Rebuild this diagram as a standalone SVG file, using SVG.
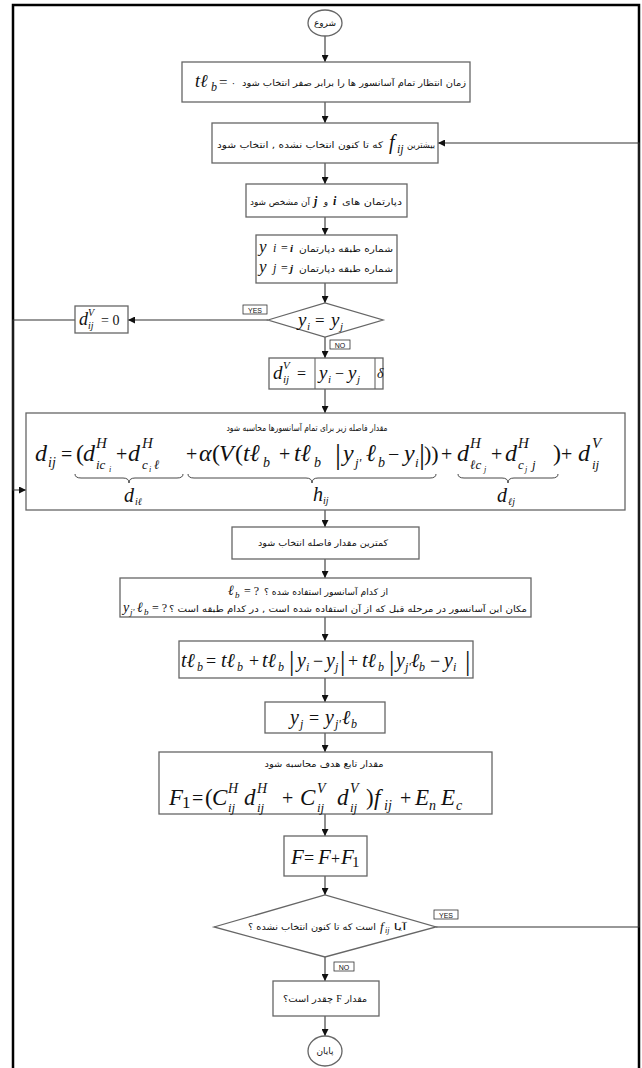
<svg xmlns="http://www.w3.org/2000/svg" width="642" height="1068" viewBox="0 0 642 1068">
<style>
.bx{fill:#fff;stroke:#666;stroke-width:1.3}
.cn{fill:none;stroke:#333;stroke-width:1.1}
.fa{font-family:"DejaVu Sans",sans-serif;font-size:9px;fill:#111}
.m{font-family:"Liberation Serif","DejaVu Serif",serif;font-style:italic;fill:#111}
.u{font-style:normal}
.lb{fill:#fff;stroke:#333;stroke-width:0.8}
.lt{font-family:"Liberation Sans",sans-serif;font-size:7px;fill:#111}
.br{fill:none;stroke:#333;stroke-width:0.9}
</style>
<defs>
<marker id="ah" markerUnits="userSpaceOnUse" markerWidth="7" markerHeight="7" refX="7" refY="3.5" orient="auto">
<path d="M0,0 L7,3.5 L0,7 z" fill="#111"/>
</marker>
</defs>
<rect width="642" height="1068" fill="#fff"/>
<path d="M13,1068 V5 H639 V1068" fill="none" stroke="#000" stroke-width="2.5"/>

<g id="connectors">
<path class="cn" d="M325,36 V62" marker-end="url(#ah)"/>
<path class="cn" d="M325,102 V123" marker-end="url(#ah)"/>
<path class="cn" d="M325,163 V184" marker-end="url(#ah)"/>
<path class="cn" d="M325,217 V235" marker-end="url(#ah)"/>
<path class="cn" d="M325,283 V303" marker-end="url(#ah)"/>
<path class="cn" d="M268,320 H128" marker-end="url(#ah)"/>
<path class="cn" d="M325,337 V358" marker-end="url(#ah)"/>
<path class="cn" d="M325,389 V413" marker-end="url(#ah)"/>
<path class="cn" d="M75,320 H13 V490 H26" marker-end="url(#ah)"/>
<path class="cn" d="M325,510 V527" marker-end="url(#ah)"/>
<path class="cn" d="M325,559 V578" marker-end="url(#ah)"/>
<path class="cn" d="M325,617 V641" marker-end="url(#ah)"/>
<path class="cn" d="M325,678 V702" marker-end="url(#ah)"/>
<path class="cn" d="M325,733 V752" marker-end="url(#ah)"/>
<path class="cn" d="M325,814 V836" marker-end="url(#ah)"/>
<path class="cn" d="M325,876 V895" marker-end="url(#ah)"/>
<path class="cn" d="M325,957 V981" marker-end="url(#ah)"/>
<path class="cn" d="M325,1016 V1036" marker-end="url(#ah)"/>
<path class="cn" d="M436,927 H639 V143 H438" marker-end="url(#ah)"/>
<rect class="lb" x="243" y="305" width="24" height="9"/><text class="lt" x="255" y="312.5" text-anchor="middle">YES</text>
<rect class="lb" x="330" y="340" width="20" height="9"/><text class="lt" x="340" y="347.5" text-anchor="middle">NO</text>
<rect class="lb" x="434" y="910" width="24" height="9"/><text class="lt" x="446" y="917.5" text-anchor="middle">YES</text>
<rect class="lb" x="334" y="962" width="20" height="9"/><text class="lt" x="344" y="969.5" text-anchor="middle">NO</text>
</g>

<g id="start">
<ellipse class="bx" cx="325" cy="23" rx="17" ry="13"/>
<text class="fa" x="325" y="26" text-anchor="middle" direction="rtl">شروع</text>
</g>

<g id="init">
<rect class="bx" x="182" y="62" width="288" height="40"/>
<text class="m" font-size="18"><tspan x="195" y="87">tℓ</tspan><tspan x="211" y="91" font-size="12">b</tspan><tspan class="u" x="219" y="87" font-size="15">=</tspan></text>
<text class="fa" x="231" y="86">۰</text>
<text class="fa" x="354" y="86" text-anchor="middle" direction="rtl" textLength="224" lengthAdjust="spacingAndGlyphs">زمان انتظار تمام آسانسور ها را برابر صفر انتخاب شود</text>
</g>

<g id="select-fij">
<rect class="bx" x="212" y="123" width="226" height="40"/>
<text class="fa" x="421" y="148" text-anchor="middle" direction="rtl" textLength="28" lengthAdjust="spacingAndGlyphs">بیشترین</text>
<text class="m" font-size="20"><tspan x="389" y="149">f</tspan><tspan x="397" y="153" font-size="12">ij</tspan></text>
<text class="fa" x="300" y="148" text-anchor="middle" direction="rtl" textLength="166" lengthAdjust="spacingAndGlyphs">که تا کنون انتخاب نشده , انتخاب شود</text>
</g>

<g id="departments">
<rect class="bx" x="246" y="184" width="161" height="33"/>
<text class="fa" x="372" y="205" text-anchor="middle" direction="rtl" textLength="60" lengthAdjust="spacingAndGlyphs">دپارتمان های</text>
<text class="m" font-size="12" font-weight="bold" x="333" y="205">i</text>
<text class="fa" x="326" y="205" text-anchor="middle">و</text>
<text class="m" font-size="12" font-weight="bold" x="314" y="205">j</text>
<text class="fa" x="280" y="205" text-anchor="middle" direction="rtl" textLength="60" lengthAdjust="spacingAndGlyphs">آن مشخص شود</text>
</g>

<g id="floors">
<rect class="bx" x="256" y="235" width="141" height="48"/>
<text class="m" font-size="17"><tspan x="259" y="252">y</tspan><tspan x="273" y="252" font-size="12">i</tspan><tspan class="u" x="281" y="252" font-size="12">=</tspan><tspan x="290" y="252" font-size="11" font-weight="bold">i</tspan></text>
<text class="fa" x="346" y="252" text-anchor="middle" direction="rtl" textLength="94" lengthAdjust="spacingAndGlyphs">شماره طبقه دپارتمان</text>
<text class="m" font-size="17"><tspan x="259" y="272">y</tspan><tspan x="273" y="272" font-size="12">j</tspan><tspan class="u" x="281" y="272" font-size="12">=</tspan><tspan x="290" y="272" font-size="11" font-weight="bold">j</tspan></text>
<text class="fa" x="346" y="272" text-anchor="middle" direction="rtl" textLength="94" lengthAdjust="spacingAndGlyphs">شماره طبقه دپارتمان</text>
</g>

<g id="decision-floor">
<polygon class="bx" points="268,320 325,303 383,320 325,337"/>
<text class="m" font-size="19"><tspan x="298" y="326">y</tspan><tspan x="307" y="330" font-size="11">i</tspan><tspan class="u" x="315" y="326" font-size="17">=</tspan><tspan x="331" y="326">y</tspan><tspan x="340" y="330" font-size="11">j</tspan></text>
</g>

<g id="dv-zero">
<rect class="bx" x="75" y="306" width="53" height="27"/>
<text class="m" font-size="18"><tspan x="79" y="325">d</tspan><tspan x="88" y="316" font-size="10">V</tspan><tspan x="88" y="329" font-size="10">ij</tspan><tspan class="u" x="101" y="325" font-size="14">= 0</tspan></text>
</g>

<g id="dv-calc">
<rect class="bx" x="269" y="358" width="114" height="31"/>
<line x1="315" y1="358" x2="315" y2="389" stroke="#666" stroke-width="1.1"/>
<line x1="375" y1="358" x2="375" y2="389" stroke="#666" stroke-width="1.1"/>
<text class="m" font-size="19"><tspan x="273" y="379">d</tspan><tspan x="283" y="369" font-size="11">V</tspan><tspan x="283" y="383" font-size="11">ij</tspan><tspan class="u" x="297" y="379" font-size="16">=</tspan><tspan x="319" y="379">y</tspan><tspan x="328" y="383" font-size="11">i</tspan><tspan class="u" x="335" y="379" font-size="16">−</tspan><tspan x="348" y="379">y</tspan><tspan x="357" y="383" font-size="11">j</tspan><tspan x="377" y="378" font-size="14">δ</tspan></text>
</g>

<g id="distance">
<rect class="bx" x="26" y="413" width="599" height="97"/>
<text class="fa" x="307" y="431" text-anchor="middle" direction="rtl" font-size="8.5" textLength="161" lengthAdjust="spacingAndGlyphs">مقدار فاصله زیر برای تمام آسانسورها محاسبه شود</text>
<text class="m" font-size="24">
<tspan x="35" y="461">d</tspan><tspan x="48" y="467" font-size="14">ij</tspan>
<tspan class="u" x="61" y="461" font-size="20">=</tspan>
<tspan class="u" x="76" y="461">(</tspan><tspan x="83" y="461">d</tspan><tspan x="96" y="448" font-size="15">H</tspan><tspan x="96" y="469" font-size="13">ic</tspan><tspan x="109" y="472" font-size="8">i</tspan>
<tspan class="u" x="116" y="461" font-size="20">+</tspan>
<tspan x="128" y="461">d</tspan><tspan x="142" y="448" font-size="15">H</tspan><tspan x="142" y="469" font-size="13">c</tspan><tspan x="149" y="472" font-size="8">i</tspan><tspan x="154" y="469" font-size="13">ℓ</tspan>
<tspan class="u" x="186" y="461" font-size="20">+</tspan>
<tspan x="199" y="461">α</tspan><tspan class="u" x="212" y="461">(</tspan><tspan x="219" y="461">V</tspan><tspan class="u" x="235" y="461">(</tspan><tspan x="243" y="461">tℓ</tspan><tspan x="263" y="467" font-size="14">b</tspan>
<tspan class="u" x="279" y="461" font-size="20">+</tspan>
<tspan x="294" y="461">tℓ</tspan><tspan x="314" y="467" font-size="14">b</tspan>
<tspan class="u" x="335" y="464" font-size="30">|</tspan>
<tspan x="343" y="461">y</tspan><tspan x="355" y="467" font-size="13">j'</tspan><tspan x="366" y="461">ℓ</tspan><tspan x="378" y="467" font-size="14">b</tspan>
<tspan class="u" x="388" y="461" font-size="20">−</tspan>
<tspan x="404" y="461">y</tspan><tspan x="415" y="467" font-size="13">i</tspan>
<tspan class="u" x="419" y="464" font-size="30">|</tspan><tspan class="u" x="424" y="461" font-size="22">))</tspan>
<tspan class="u" x="441" y="461" font-size="20">+</tspan>
<tspan x="457" y="461">d</tspan><tspan x="470" y="448" font-size="15">H</tspan><tspan x="470" y="469" font-size="13">ℓc</tspan><tspan x="484" y="472" font-size="8">j</tspan>
<tspan class="u" x="491" y="461" font-size="20">+</tspan>
<tspan x="505" y="461">d</tspan><tspan x="518" y="448" font-size="15">H</tspan><tspan x="518" y="469" font-size="13">c</tspan><tspan x="525" y="472" font-size="8">j</tspan><tspan x="532" y="469" font-size="13">j</tspan>
<tspan class="u" x="553" y="461">)</tspan><tspan class="u" x="561" y="461" font-size="20">+</tspan>
<tspan x="578" y="461">d</tspan><tspan x="592" y="448" font-size="15">V</tspan><tspan x="592" y="469" font-size="13">ij</tspan>
</text>
<path class="br" d="M75,474 Q75,478 81,478 L123,478 Q129,478 129,483 Q129,478 135,478 L177,478 Q183,478 183,474"/>
<path class="br" d="M188,474 Q188,478 194,478 L306,478 Q312,478 312,483 Q312,478 318,478 L430,478 Q436,478 436,474"/>
<path class="br" d="M458,474 Q458,478 464,478 L502,478 Q508,478 508,483 Q508,478 514,478 L552,478 Q558,478 558,474"/>
<text class="m" font-size="20"><tspan x="124" y="502">d</tspan><tspan x="135" y="505" font-size="10">iℓ</tspan><tspan x="313" y="501">h</tspan><tspan x="323" y="504" font-size="10">ij</tspan><tspan x="497" y="502">d</tspan><tspan x="508" y="505" font-size="10">ℓj</tspan></text>
</g>

<g id="min-distance">
<rect class="bx" x="232" y="527" width="187" height="32"/>
<text class="fa" x="323" y="546" text-anchor="middle" direction="rtl" textLength="130" lengthAdjust="spacingAndGlyphs">کمترین مقدار فاصله انتخاب شود</text>
</g>

<g id="which-elevator">
<rect class="bx" x="120" y="578" width="411" height="39"/>
<text class="m" font-size="14"><tspan x="228" y="595">ℓ</tspan><tspan x="235" y="598" font-size="9">b</tspan><tspan class="u" x="244" y="595" font-size="12">= ?</tspan></text>
<text class="fa" x="326" y="595" text-anchor="middle" direction="rtl" textLength="124" lengthAdjust="spacingAndGlyphs">از کدام آسانسور استفاده شده ؟</text>
<text class="m" font-size="14"><tspan x="123" y="612">y</tspan><tspan x="130" y="615" font-size="9">j'</tspan><tspan x="137" y="612">ℓ</tspan><tspan x="144" y="615" font-size="9">b</tspan><tspan class="u" x="152" y="612" font-size="12">= ?</tspan></text>
<text class="fa" x="348" y="612" text-anchor="middle" direction="rtl" textLength="358" lengthAdjust="spacingAndGlyphs">مکان این آسانسور در مرحله قبل که از آن استفاده شده است , در کدام طبقه است ؟</text>
</g>

<g id="update-time">
<rect class="bx" x="179" y="641" width="294" height="37"/>
<text class="m" font-size="20">
<tspan x="181" y="667">tℓ</tspan><tspan x="197" y="671" font-size="12">b</tspan>
<tspan class="u" x="206" y="667" font-size="18">=</tspan>
<tspan x="221" y="667">tℓ</tspan><tspan x="237" y="671" font-size="12">b</tspan>
<tspan class="u" x="249" y="667" font-size="18">+</tspan>
<tspan x="262" y="667">tℓ</tspan><tspan x="278" y="671" font-size="12">b</tspan>
<tspan class="u" x="289" y="670" font-size="27">|</tspan>
<tspan x="297" y="667">y</tspan><tspan x="306" y="671" font-size="12">i</tspan>
<tspan class="u" x="313" y="667" font-size="18">−</tspan>
<tspan x="326" y="667">y</tspan><tspan x="335" y="671" font-size="12">j</tspan>
<tspan class="u" x="340" y="670" font-size="27">|</tspan>
<tspan class="u" x="348" y="667" font-size="18">+</tspan>
<tspan x="362" y="667">tℓ</tspan><tspan x="378" y="671" font-size="12">b</tspan>
<tspan class="u" x="389" y="670" font-size="27">|</tspan>
<tspan x="396" y="667">y</tspan><tspan x="405" y="671" font-size="12">j'</tspan><tspan x="411" y="667">ℓ</tspan><tspan x="419" y="671" font-size="12">b</tspan>
<tspan class="u" x="430" y="667" font-size="18">−</tspan>
<tspan x="444" y="667">y</tspan><tspan x="453" y="671" font-size="12">i</tspan>
<tspan class="u" x="465" y="670" font-size="27">|</tspan>
</text>
</g>

<g id="update-floor">
<rect class="bx" x="265" y="702" width="120" height="31"/>
<text class="m" font-size="20"><tspan x="290" y="724">y</tspan><tspan x="300" y="728" font-size="12">j</tspan><tspan class="u" x="309" y="724" font-size="18">=</tspan><tspan x="325" y="724">y</tspan><tspan x="335" y="728" font-size="12">j'</tspan><tspan x="342" y="724">ℓ</tspan><tspan x="351" y="728" font-size="12">b</tspan></text>
</g>

<g id="objective">
<rect class="bx" x="159" y="752" width="333" height="62"/>
<text class="fa" x="324" y="767" text-anchor="middle" direction="rtl" font-size="8.5" textLength="119" lengthAdjust="spacingAndGlyphs">مقدار تابع هدف محاسبه شود</text>
<text class="m" font-size="23">
<tspan x="169" y="805">F</tspan><tspan class="u" x="182" y="808" font-size="17">1</tspan>
<tspan class="u" x="192" y="805" font-size="20">=</tspan>
<tspan class="u" x="205" y="805">(</tspan><tspan x="212" y="805">C</tspan><tspan x="228" y="793" font-size="14">H</tspan><tspan x="228" y="812" font-size="13">ij</tspan>
<tspan x="244" y="805">d</tspan><tspan x="257" y="793" font-size="14">H</tspan><tspan x="257" y="812" font-size="13">ij</tspan>
<tspan class="u" x="282" y="805" font-size="20">+</tspan>
<tspan x="300" y="805">C</tspan><tspan x="317" y="793" font-size="14">V</tspan><tspan x="317" y="812" font-size="13">ij</tspan>
<tspan x="337" y="805">d</tspan><tspan x="350" y="793" font-size="14">V</tspan><tspan x="350" y="812" font-size="13">ij</tspan>
<tspan class="u" x="366" y="805">)</tspan><tspan x="374" y="805">f</tspan><tspan x="384" y="810" font-size="14">ij</tspan>
<tspan class="u" x="400" y="805" font-size="20">+</tspan>
<tspan x="415" y="805">E</tspan><tspan x="429" y="810" font-size="14">n</tspan><tspan x="441" y="805">E</tspan><tspan x="456" y="810" font-size="14">c</tspan>
</text>
</g>

<g id="accumulate">
<rect class="bx" x="284" y="836" width="83" height="40"/>
<text class="m" font-size="21"><tspan x="291" y="864">F</tspan><tspan class="u" x="304" y="864" font-size="18">=</tspan><tspan x="318" y="864">F</tspan><tspan class="u" x="331" y="864" font-size="16">+</tspan><tspan x="341" y="864">F</tspan><tspan class="u" x="352" y="867" font-size="15">1</tspan></text>
</g>

<g id="decision-remaining">
<polygon class="bx" points="214,927 325,895 436,927 325,957"/>
<text class="fa" x="400" y="930" text-anchor="middle" direction="rtl" textLength="13" lengthAdjust="spacingAndGlyphs">آیا</text>
<text class="m" font-size="13"><tspan x="380" y="931">f</tspan><tspan x="385" y="933" font-size="8">ij</tspan></text>
<text class="fa" x="312" y="930" text-anchor="middle" direction="rtl" textLength="128" lengthAdjust="spacingAndGlyphs">است که تا کنون انتخاب نشده ؟</text>
</g>

<g id="result">
<rect class="bx" x="273" y="981" width="106" height="35"/>
<text class="fa" x="356" y="1002" text-anchor="middle" direction="rtl" textLength="22" lengthAdjust="spacingAndGlyphs">مقدار</text>
<text x="339" y="1002" text-anchor="middle" font-family="Liberation Serif, serif" font-size="10" fill="#111">F</text>
<text class="fa" x="308" y="1002" text-anchor="middle" direction="rtl" textLength="50" lengthAdjust="spacingAndGlyphs">چقدر است؟</text>
</g>

<g id="end">
<ellipse class="bx" cx="325" cy="1051" rx="17" ry="15"/>
<text class="fa" x="325" y="1054" text-anchor="middle" direction="rtl">پایان</text>
</g>
</svg>
